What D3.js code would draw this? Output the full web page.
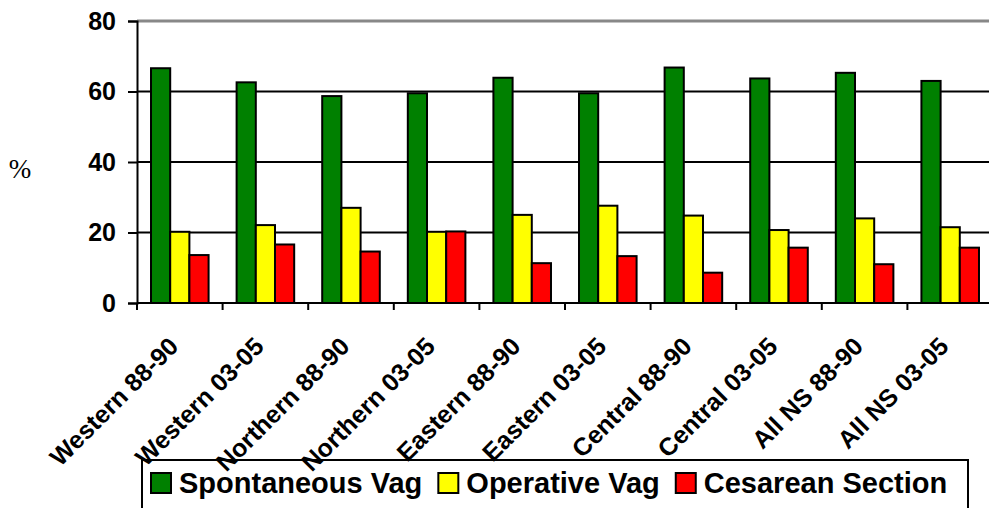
<!DOCTYPE html>
<meta charset="utf-8">
<title>Delivery mode by region</title>
<script src="https://cdn.jsdelivr.net/npm/d3@7"></script>
<style>
  body { margin: 0; background: #fff; }
  svg { display: block; font-family: Arial, "Liberation Sans", sans-serif; }
  .ytick text { font-weight: bold; font-size: 25px; }
  .xlab { font-weight: bold; font-size: 25px; }
  .legend text { font-weight: bold; font-size: 29px; }
</style>
<body>
<svg></svg>
<script>
var categories = ["Western 88-90", "Western 03-05", "Northern 88-90", "Northern 03-05",
                  "Eastern 88-90", "Eastern 03-05", "Central 88-90", "Central 03-05",
                  "All NS 88-90", "All NS 03-05"];
var series = ["Spontaneous Vag", "Operative Vag", "Cesarean Section"];
var colors = ["#008000", "#ffff00", "#ff0000"];

var spontaneous = [66.6, 62.6, 58.7, 59.5, 63.9, 59.5, 66.8, 63.7, 65.3, 63.0];
var operative   = [20.2, 22.1, 27.0, 20.2, 25.0, 27.6, 24.8, 20.7, 24.0, 21.5];
var cesarean    = [13.6, 16.6, 14.6, 20.3, 11.3, 13.3,  8.6, 15.7, 11.0, 15.7];

var yTicks = [0, 20, 40, 60, 80];

var values = [spontaneous, operative, cesarean];

var width = 989, height = 508;
var svg = d3.select("svg").attr("width", width).attr("height", height);

var x0 = d3.scaleBand().domain(categories).range([137, 993]).padding(0);
var x1 = d3.scaleBand().domain(series).range([0, x0.bandwidth()]).paddingInner(0).paddingOuter(0.73);
var y = d3.scaleLinear().domain([0, 80]).range([303, 21]);

// gridlines (top one is the grey plot-area border)
svg.append("g").selectAll("line")
    .data(yTicks.filter(function(t) { return t > 0; }))
  .enter().append("line")
    .attr("x1", 137).attr("x2", 993)
    .attr("y1", function(d) { return y(d); }).attr("y2", function(d) { return y(d); })
    .attr("stroke", function(d) { return d === 80 ? "#888" : "#000"; })
    .attr("stroke-width", function(d) { return d === 80 ? 3 : 2; });

// bars
var groups = svg.append("g").selectAll("g")
    .data(categories)
  .enter().append("g")
    .attr("transform", function(d) { return "translate(" + x0(d) + ",0)"; });

groups.selectAll("rect")
    .data(function(d, i) { return series.map(function(s, j) { return { s: s, j: j, v: values[j][i] }; }); })
  .enter().append("rect")
    .attr("x", function(d) { return x1(d.s); })
    .attr("width", x1.bandwidth())
    .attr("y", function(d) { return y(d.v); })
    .attr("height", function(d) { return y(0) - y(d.v); })
    .attr("fill", function(d) { return colors[d.j]; })
    .attr("stroke", "#000")
    .attr("stroke-width", 2);

// y axis
var yAxis = svg.append("g")
    .attr("class", "ytick")
    .attr("transform", "translate(137,0)")
    .call(d3.axisLeft(y).tickValues(yTicks).tickSize(9).tickPadding(12).tickFormat(d3.format("d")));
yAxis.select(".domain").attr("stroke", "#000").attr("stroke-width", 2);
yAxis.selectAll(".tick line").attr("stroke", "#000").attr("stroke-width", 2);
yAxis.selectAll("text").attr("fill", "#000");

// x axis
var xAxis = svg.append("g")
    .attr("transform", "translate(0,303)");
xAxis.append("line")
    .attr("x1", 137).attr("x2", 993)
    .attr("stroke", "#000").attr("stroke-width", 2);
xAxis.selectAll(".xt")
    .data(categories)
  .enter().append("line")
    .attr("x1", function(d) { return x0(d); }).attr("x2", function(d) { return x0(d); })
    .attr("y1", 0).attr("y2", 7)
    .attr("stroke", "#000").attr("stroke-width", 2);

// legend box (drawn before labels so label tails sit on top)
var legend = svg.append("g").attr("class", "legend");
legend.append("rect")
    .attr("x", 142).attr("y", 460)
    .attr("width", 826).attr("height", 60)
    .attr("fill", "#fff").attr("stroke", "#000").attr("stroke-width", 2);

svg.append("g").selectAll("text")
    .data(categories)
  .enter().append("text")
    .attr("class", "xlab")
    .attr("text-anchor", "end")
    .attr("transform", function(d) { return "translate(" + (x0(d) + x0.bandwidth() / 2) + ",348) rotate(-45)"; })
    .text(function(d) { return d; });

// % label
svg.append("text")
    .attr("x", 20).attr("y", 178)
    .attr("text-anchor", "middle")
    .style("font-family", "'Times New Roman', 'Liberation Serif', serif")
    .style("font-size", "27px")
    .text("%");

var lx = 151;
series.forEach(function(s, j) {
  legend.append("rect")
      .attr("x", lx).attr("y", 473)
      .attr("width", 20).attr("height", 20)
      .attr("fill", colors[j]).attr("stroke", "#000").attr("stroke-width", 2);
  var t = legend.append("text")
      .attr("x", lx + 28).attr("y", 493)
      .text(s);
  lx += 28 + t.node().getComputedTextLength() + 16;
});
</script>
</body>
